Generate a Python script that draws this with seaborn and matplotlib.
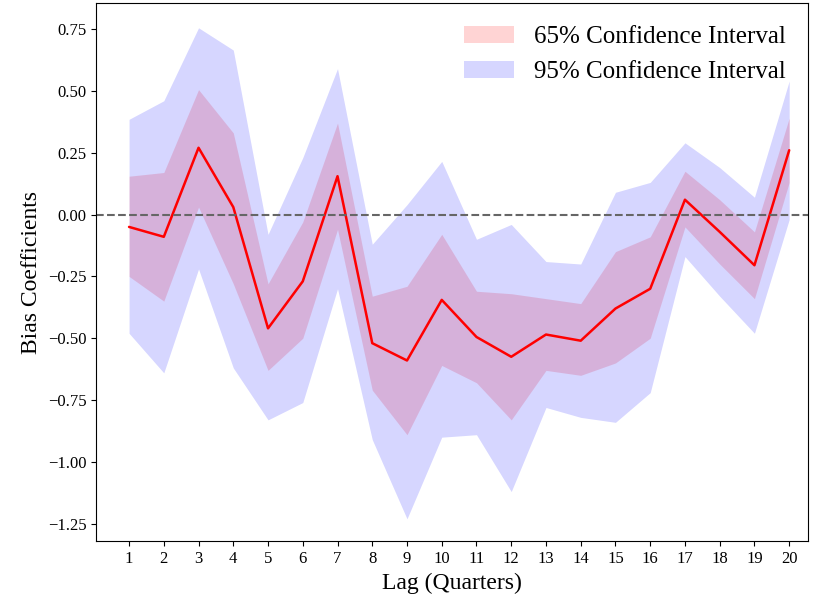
import numpy as np
import pandas as pd
import matplotlib
matplotlib.use('Agg')
import matplotlib.pyplot as plt
import seaborn as sns

lags = list(range(1, 21))
coef = [-0.05, -0.09, 0.27, 0.03, -0.46, -0.27, 0.155, -0.52, -0.59, -0.345,
        -0.495, -0.575, -0.485, -0.51, -0.38, -0.30, 0.06, -0.07, -0.205, 0.26]
ci65_hi = [0.155, 0.17, 0.505, 0.33, -0.28, -0.03, 0.37, -0.33, -0.29, -0.08,
           -0.31, -0.32, -0.34, -0.36, -0.15, -0.09, 0.175, 0.06, -0.07, 0.39]
ci65_lo = [-0.25, -0.35, 0.03, -0.28, -0.63, -0.50, -0.06, -0.71, -0.89, -0.61,
           -0.68, -0.83, -0.63, -0.65, -0.60, -0.50, -0.05, -0.20, -0.34, 0.13]
ci95_hi = [0.385, 0.46, 0.755, 0.665, -0.08, 0.23, 0.59, -0.12, 0.04, 0.215,
           -0.10, -0.04, -0.19, -0.20, 0.09, 0.13, 0.29, 0.19, 0.07, 0.54]
ci95_lo = [-0.48, -0.64, -0.22, -0.62, -0.83, -0.76, -0.30, -0.91, -1.23, -0.90,
           -0.89, -1.12, -0.78, -0.82, -0.84, -0.72, -0.17, -0.33, -0.48, -0.02]

df = pd.DataFrame({'lag': lags, 'coef': coef})

sns.set_style('ticks')
plt.rcParams['font.family'] = ['Liberation Serif', 'DejaVu Serif']
for k in ['text.color', 'axes.labelcolor', 'xtick.color', 'ytick.color']:
    plt.rcParams[k] = 'black'

fig, ax = plt.subplots(figsize=(8.14, 6.10), dpi=100)
ax.fill_between(lags, ci65_lo, ci65_hi, color='red', alpha=0.17, linewidth=0,
                label='65% Confidence Interval')
ax.fill_between(lags, ci95_lo, ci95_hi, color='blue', alpha=0.16, linewidth=0,
                label='95% Confidence Interval')
sns.lineplot(data=df, x='lag', y='coef', color='red', linewidth=1.8, ax=ax)
ax.axhline(0, color='0.4', linestyle='--', linewidth=1.5)

ax.set_xlim(0.05, 20.55)
ax.set_ylim(-1.32, 0.855)
ax.set_xticks(lags)
yt = np.arange(-1.25, 0.76, 0.25)
ax.set_yticks(yt)
ax.set_yticklabels([f'{v:.2f}'.replace('-', '\u2212') for v in yt])
ax.tick_params(labelsize=12)
for s in ax.spines.values():
    s.set_color('black')
ax.set_xlabel('Lag (Quarters)', fontsize=17)
ax.set_ylabel('Bias Coefficients', fontsize=17)
ax.legend(loc='upper right', frameon=False, fontsize=18)

fig.subplots_adjust(left=0.118, right=0.993, top=0.995, bottom=0.113)
fig.savefig('out.png', dpi=100)
